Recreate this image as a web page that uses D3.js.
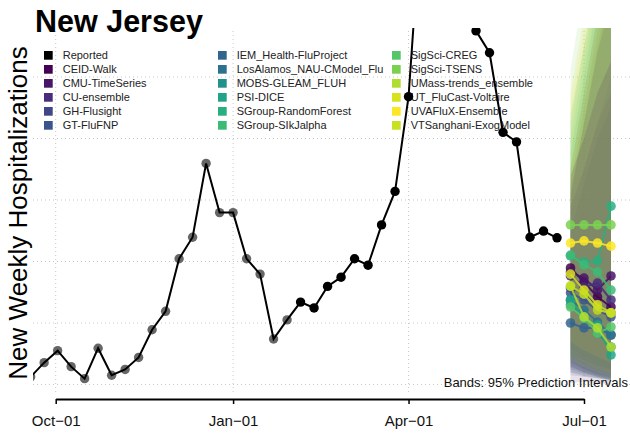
<!DOCTYPE html>
<html><head><meta charset="utf-8">
<script src="https://cdn.jsdelivr.net/npm/d3@7"></script>
<style>body{margin:0;background:#fff}svg{display:block;font-family:"Liberation Sans",Arial,sans-serif}</style>
</head><body>
<svg id="c" width="630" height="433"></svg>
<script>
// ---------- data ----------
const title = "New Jersey";
const yTitle = "New Weekly Hospitalizations";
const reportedStart = "2023-09-18";
const reported = [225,271,310,258,219,318,230,249,288,378,438,609,679,919,759,759,609,559,348,410,
  468,449,519,549,609,588,719,828,1136,1766,2050,2150,1900,1350,1279,1020,989,679,699,677];
const nGray = 20; // earlier points drawn in grey
const forecastDates = ["2024-06-24","2024-07-01","2024-07-08","2024-07-15"];
const models = ["CEID-Walk","CMU-TimeSeries","CU-ensemble","GH-Flusight","GT-FluFNP",
  "IEM_Health-FluProject","LosAlamos_NAU-CModel_Flu","MOBS-GLEAM_FLUH","PSI-DICE",
  "SGroup-RandomForest","SGroup-SIkJalpha","SigSci-CREG","SigSci-TSENS",
  "UMass-trends_ensemble","UT_FluCast-Voltaire","UVAFluX-Ensemble","VTSanghani-ExogModel"];
const modelColors = ["#440154","#481567","#472D7B","#3F4788","#39558C","#32648E","#2C728E",
  "#21918C","#20A386","#29AF7F","#3CBB75","#55C667","#7AD151","#B0DD2F","#D8E21C","#FDE725","#C7E020"];
const medians = [
  [579,533,485,452],[566,546,507,553],[553,517,530,475],[514,498,459,433],[498,475,442,420],
  [400,384,384,361],[475,442,403,361],[459,420,367,322],[475,416,393,296],[618,598,602,780],
  [621,589,566,507],[452,416,367,387],[719,719,719,719],[520,420,384,322],[559,507,459,433],
  [660,667,660,650],[520,494,442,433]];
const lower95 = [
  [205,210,205,200],[240,230,220,215],[250,235,225,215],[270,250,235,225],[255,240,230,220],
  [230,225,220,215],[260,240,225,215],[280,250,230,215],[240,225,220,210],[300,280,260,250],
  [290,265,245,230],[260,240,225,220],[320,290,270,250],[270,240,225,210],[300,270,250,235],
  [340,310,290,270],[280,255,240,225]];
const upper95 = [
  [880,1000,1150,1250],[820,1050,1280,1450],[900,1150,1400,1600],[780,900,1050,1150],[800,1050,1300,1500],
  [700,850,1000,1100],[850,1100,1350,1600],[760,900,1050,1200],[950,1200,1450,1700],[1080,1300,1550,1800],
  [1000,1250,1500,1700],[1050,1300,1500,1750],[1220,1500,1800,2100],[900,1150,1400,1600],[880,1100,1350,1550],
  [1120,1350,1600,1850],[1150,1400,1650,1900]];
const bandOrder = [9,10,11,12,8,7,6,5,4,13,3,14,2,15,1,16,0];
const gridValues = [200,400,600,800,1000,1200];
const tickDates = ["2023-10-01","2024-01-01","2024-04-01","2024-07-01"];
const tickLabels = ["Oct\u221201","Jan\u221201","Apr\u221201","Jul\u221201"];
const bandNote = "Bands: 95% Prediction Intervals";

// ---------- setup ----------
const parse = d3.timeParse("%Y-%m-%d");
const svg = d3.select("#c");
const plot = {left:33, right:640, top:28, bottom:395};
const x = d3.scaleTime().domain([parse(tickDates[0]), parse(tickDates[3])]).range([55.7, 584]);
const y = d3.scaleLinear().domain([200, 1200]).range([384.5, 77]);

const start = parse(reportedStart);
const rep = reported.map((v,i)=>({d:d3.timeDay.offset(start,7*i), v, i}));
const fd = forecastDates.map(parse);

svg.append("defs").append("clipPath").attr("id","clip").append("rect")
  .attr("x",plot.left).attr("y",plot.top).attr("width",plot.right-plot.left).attr("height",plot.bottom-plot.top);

// grid
const grid = svg.append("g").attr("stroke","#c8c8c8").attr("stroke-dasharray","1,3").attr("stroke-width",1);
grid.selectAll("line.h").data(gridValues).join("line")
  .attr("x1",plot.left).attr("x2",630).attr("y1",d=>y(d)).attr("y2",d=>y(d));
grid.selectAll("line.v").data(tickDates).join("line")
  .attr("x1",d=>x(parse(d))).attr("x2",d=>x(parse(d))).attr("y1",plot.top+3).attr("y2",plot.bottom);

// title
svg.append("text").attr("x",35).attr("y",31.5).attr("font-size",30.5).attr("font-weight","bold").text(title);
svg.append("text").attr("transform","translate(27,213) rotate(-90)").attr("text-anchor","middle")
  .attr("font-size",26).text(yTitle);

// legend
const legItems = [{n:"Reported",c:"#000"}].concat(models.map((m,i)=>({n:m,c:modelColors[i]})));
const colX = [44,218,392];
const leg = svg.append("g").attr("font-size",11);
legItems.forEach((it,k)=>{
  const col = Math.floor(k/6), row = k%6;
  const cy = 55.3 + row*14;
  leg.append("rect").attr("x",colX[col]).attr("y",cy-4.3).attr("width",8.7).attr("height",8.7).attr("fill",it.c);
  leg.append("text").attr("x",colX[col]+18.7).attr("y",cy+3.8).attr("fill","#222").text(it.n);
});

const g = svg.append("g").attr("clip-path","url(#clip)");

// bands
bandOrder.forEach(i=>{
  const pts = fd.map((d,h)=>({d, lo:lower95[i][h], hi:upper95[i][h]}));
  g.append("path").datum(pts)
    .attr("d", d3.area().x(p=>x(p.d)).y0(p=>y(p.lo)).y1(p=>y(p.hi)))
    .attr("fill",modelColors[i]).attr("fill-opacity",0.12).attr("stroke","none");
});

// reported
g.selectAll("circle.gray").data(rep.slice(0,nGray)).join("circle")
  .attr("cx",d=>x(d.d)).attr("cy",d=>y(d.v)).attr("r",4.7).attr("fill","#666");
g.append("path").datum(rep).attr("d",d3.line().x(d=>x(d.d)).y(d=>y(d.v)))
  .attr("fill","none").attr("stroke","#000").attr("stroke-width",2);
g.selectAll("circle.blk").data(rep.slice(nGray)).join("circle")
  .attr("cx",d=>x(d.d)).attr("cy",d=>y(d.v)).attr("r",4.7).attr("fill","#000");

// forecasts
models.forEach((m,i)=>{
  const pts = fd.map((d,h)=>({d, v:medians[i][h]}));
  g.append("path").datum(pts).attr("d",d3.line().x(p=>x(p.d)).y(p=>y(p.v)))
    .attr("fill","none").attr("stroke",modelColors[i]).attr("stroke-width",2).attr("stroke-opacity",0.85);
  g.selectAll(null).data(pts).join("circle").attr("cx",p=>x(p.d)).attr("cy",p=>y(p.v))
    .attr("r",4.8).attr("fill",modelColors[i]).attr("fill-opacity",0.85);
});

svg.append("text").attr("x",628).attr("y",387).attr("text-anchor","end").attr("font-size",13)
  .attr("fill","#111").text(bandNote);

// x axis
const ax = svg.append("g").attr("transform","translate(0,399)")
  .call(d3.axisBottom(x).tickValues(tickDates.map(parse)).tickFormat((d,i)=>tickLabels[i])
    .tickSize(5).tickSizeOuter(0).tickPadding(11));
ax.select(".domain").attr("stroke-width",2);
ax.selectAll(".tick line").attr("stroke-width",1.5);
ax.selectAll(".tick text").attr("font-size",15).attr("font-family","Liberation Sans, Arial, sans-serif").attr("fill","#111");
</script>
</body></html>
